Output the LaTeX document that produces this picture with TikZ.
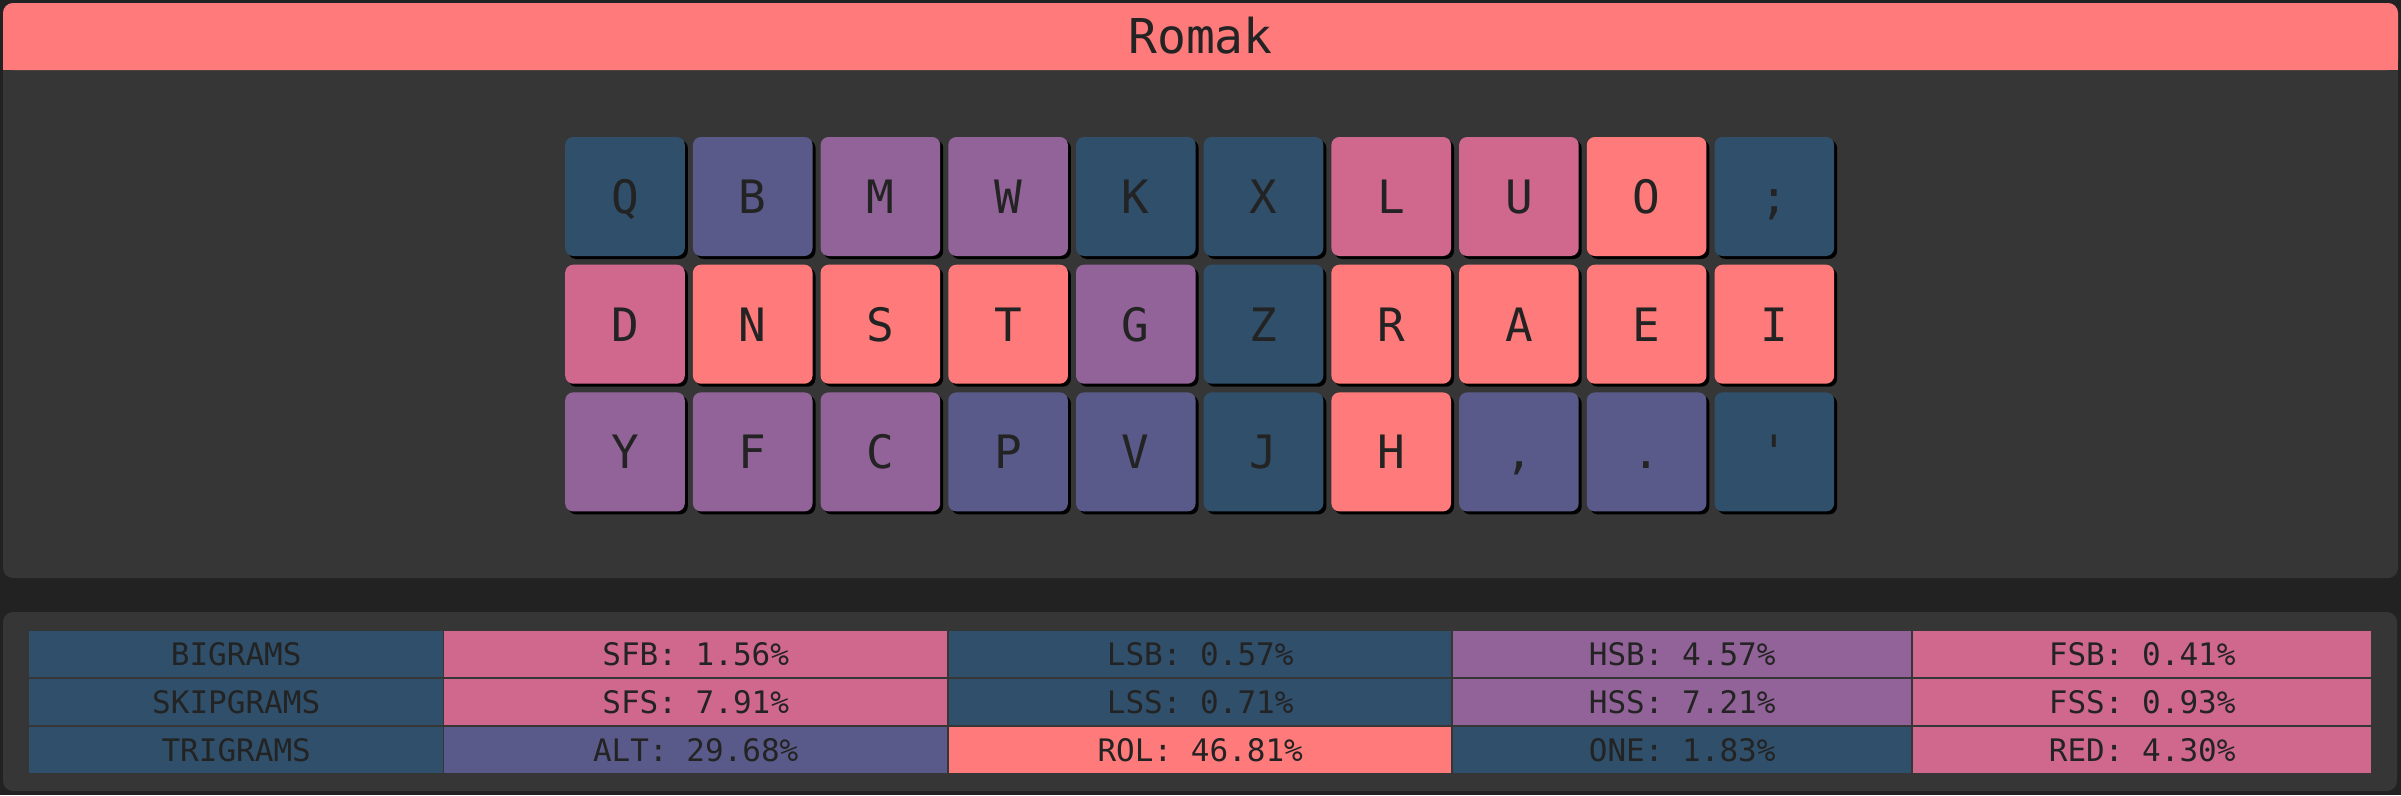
\documentclass[tikz,border=0pt]{standalone}
\usepackage{fontspec}
\setmonofont{DejaVu Sans Mono}
\usetikzlibrary{positioning,shadows}
\definecolor{bgdark}{HTML}{222222}
\definecolor{panelgray}{HTML}{363636}
\definecolor{salmon}{HTML}{FF7A7A}
\definecolor{rose}{HTML}{D0688E}
\definecolor{plum}{HTML}{926399}
\definecolor{indigo}{HTML}{5A5A8A}
\definecolor{navy}{HTML}{2F4F6B}
\definecolor{ink}{HTML}{232323}
\tikzset{key/.style={rounded corners=8pt, minimum width=119.6pt, minimum height=119pt, inner sep=0pt,
    text=ink, text height=34pt, text depth=0pt, font=\ttfamily\fontsize{46}{50}\selectfont,
    drop shadow={shadow xshift=3pt, shadow yshift=-3pt, fill=black, opacity=1}},
cell/.style={anchor=north west, minimum height=46pt, inner sep=0pt, text=ink,
    text height=22pt, text depth=0pt, font=\ttfamily\fontsize{31}{34}\selectfont},
panel/.style={fill=panelgray, rounded corners=10pt}
}

\begin{document}
\begin{tikzpicture}[x=1pt, y=-1pt]
    % Background and panels
    \fill[bgdark] (0,0) rectangle (2401,795);
    \useasboundingbox (0,0) rectangle (2401,795);
    \fill[panel] (3,3) rectangle (2398,578);
    \fill[salmon, rounded corners=10pt] (3,3) rectangle (2398,70);
    \fill[salmon] (3,40) rectangle (2398,70);
    \node[text=ink, font=\ttfamily\fontsize{48}{52}\selectfont, text height=35pt, text depth=0pt, inner sep=0pt] (title) at (1200.5,36) {Romak};
    \fill[panel] (3,612) rectangle (2397,791);
    % Keys
    \foreach \clr/\lbl [count=\i from 0] in {navy/Q, indigo/B, plum/M, plum/W, navy/K, navy/X, rose/L, rose/U, salmon/O, navy/{;}}
        \node[key, fill=\clr] (k1\i) at (625+127.7*\i, 196.5) {\lbl};
    \foreach \clr/\lbl [count=\i from 0] in {rose/D, salmon/N, salmon/S, salmon/T, plum/G, navy/Z, salmon/R, salmon/A, salmon/E, salmon/I}
        \node[key, fill=\clr] (k2\i) at (625+127.7*\i, 324.2) {\lbl};
    \foreach \clr/\lbl [count=\i from 0] in {plum/Y, plum/F, plum/C, indigo/P, indigo/V, navy/J, salmon/H, indigo/{,}, indigo/., navy/'}
        \node[key, fill=\clr] (k3\i) at (625+127.7*\i, 451.9) {\lbl};
    % Stats table
    \foreach \x/\w/\clr/\txt [count=\i] in {29/414/navy/BIGRAMS, 444/503/rose/SFB: 1.56\%, 949/502/navy/LSB: 0.57\%, 1453/458/plum/HSB: 4.57\%, 1913/458/rose/FSB: 0.41\%}
        \node[cell, fill=\clr, minimum width=\w pt] (s1\i) at (\x,631) {\txt};
    \foreach \x/\w/\clr/\txt [count=\i] in {29/414/navy/SKIPGRAMS, 444/503/rose/SFS: 7.91\%, 949/502/navy/LSS: 0.71\%, 1453/458/plum/HSS: 7.21\%, 1913/458/rose/FSS: 0.93\%}
        \node[cell, fill=\clr, minimum width=\w pt] (s2\i) at (\x,679) {\txt};
    \foreach \x/\w/\clr/\txt [count=\i] in {29/414/navy/TRIGRAMS, 444/503/indigo/ALT: 29.68\%, 949/502/salmon/ROL: 46.81\%, 1453/458/navy/ONE: 1.83\%, 1913/458/rose/RED: 4.30\%}
        \node[cell, fill=\clr, minimum width=\w pt] (s3\i) at (\x,727) {\txt};
\end{tikzpicture}
\end{document}
